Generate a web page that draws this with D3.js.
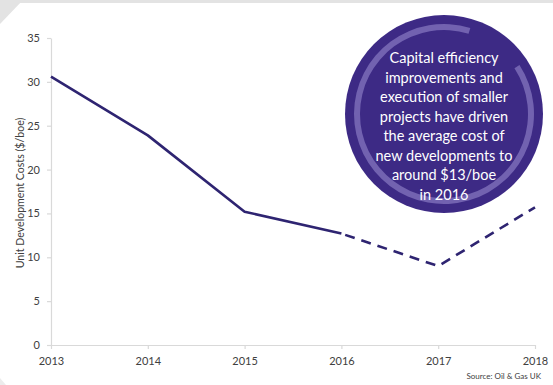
<!DOCTYPE html>
<html>
<head>
<meta charset="utf-8">
<script src="https://cdn.jsdelivr.net/npm/d3@7"></script>
<style>
  html, body { margin: 0; padding: 0; background: #fff; }
  svg { display: block; font-family: Lato, "Open Sans", sans-serif; }
</style>
</head>
<body>
<svg id="chart" width="553" height="385"></svg>
<script>
// Unit development costs, actual (solid) and forecast (dashed)
const years = [2013, 2014, 2015, 2016, 2017, 2018];
const costs = [30.6, 23.9, 15.2, 12.7, 9.0, 15.7];
const actualYears = [2013, 2014, 2015, 2016];
const forecastYears = [2016, 2017, 2018];
const yTicks = [0, 5, 10, 15, 20, 25, 30, 35];
const yTitle = "Unit Development Costs ($/boe)";
const sourceText = "Source: Oil & Gas UK";
const calloutLines = [
  "Capital efficiency",
  "improvements and",
  "execution of smaller",
  "projects have driven",
  "the average cost of",
  "new developments to",
  "around $13/boe",
  "in 2016"
];

const svg = d3.select("#chart");
const W = 553, H = 385;
const margin = { left: 51, right: 18, top: 38, bottom: 40 };

// page frame: thin grey strip and folded corner
svg.append("rect").attr("x", 0).attr("y", 0).attr("width", W).attr("height", 3).attr("fill", "#e3e3e3");
svg.append("path").attr("d", "M0,0 L23,0 L0,24 Z").attr("fill", "#e3e3e3");
svg.append("path").attr("d", "M0,378 L6,385 L0,385 Z").attr("fill", "#ececec");

const x = d3.scaleLinear().domain([2013, 2018]).range([margin.left, W - margin.right]);
const y = d3.scaleLinear().domain([0, 35]).range([H - margin.bottom, margin.top]);

const axisColor = "#d9d9d9";
const textColor = "#404040";

// y axis
const yAxis = svg.append("g")
  .attr("transform", `translate(${margin.left},0)`)
  .call(d3.axisLeft(y).tickValues(yTicks).tickSize(4).tickPadding(7).tickSizeOuter(0));
// x axis
const xAxis = svg.append("g")
  .attr("transform", `translate(0,${y(0)})`)
  .call(d3.axisBottom(x).tickValues(years).tickFormat(d3.format("d")).tickSize(4).tickPadding(8).tickSizeOuter(0));

[yAxis, xAxis].forEach(g => {
  g.select(".domain").attr("stroke", axisColor).attr("stroke-width", 1.2);
  g.selectAll(".tick line").attr("stroke", axisColor).attr("stroke-width", 1.2);
  g.selectAll(".tick text").attr("fill", textColor).attr("font-size", 11)
    .attr("font-family", "Lato, sans-serif");
});

// axis title
svg.append("text")
  .attr("transform", "translate(20,193) rotate(-90)")
  .attr("text-anchor", "middle")
  .attr("dy", "0.35em")
  .attr("fill", textColor)
  .attr("font-size", 10.6)
  .text(yTitle);

// lines
const lineColor = "#2e2471";
const line = d3.line().x(d => x(d.year)).y(d => y(d.value));
const pts = years.map((yr, i) => ({ year: yr, value: costs[i] }));

svg.append("path")
  .datum(pts.filter(p => actualYears.includes(p.year)))
  .attr("d", line)
  .attr("fill", "none")
  .attr("stroke", lineColor)
  .attr("stroke-width", 2.6)
  .attr("stroke-linejoin", "round");

svg.append("path")
  .datum(pts.filter(p => forecastYears.includes(p.year)))
  .attr("d", line)
  .attr("fill", "none")
  .attr("stroke", lineColor)
  .attr("stroke-width", 2.6)
  .attr("stroke-dasharray", "10,7")
  .attr("stroke-dashoffset", -4);

// callout bubble with an open inner ring
const cx = 444, cy = 114, r = 99;
const deg = Math.PI / 180;
const bubble = svg.append("g").attr("transform", `translate(${cx},${cy})`);
bubble.append("circle").attr("r", r).attr("fill", "#3d2a85");
const ring = d3.arc().innerRadius(84).outerRadius(90)
  .startAngle(57 * deg)
  .endAngle(377 * deg);
bubble.append("path").attr("d", ring()).attr("fill", "#7262b0");

bubble.append("g")
  .selectAll("text")
  .data(calloutLines)
  .join("text")
  .attr("x", 0)
  .attr("y", (d, i) => -56 + i * 19.5)
  .attr("dy", "0.35em")
  .attr("text-anchor", "middle")
  .attr("fill", "#ffffff")
  .attr("font-size", 14.5)
  .text(d => d);

// source
svg.append("text")
  .attr("x", 541)
  .attr("y", 379)
  .attr("text-anchor", "end")
  .attr("fill", textColor)
  .attr("font-size", 8)
  .text(sourceText);
</script>
</body>
</html>
